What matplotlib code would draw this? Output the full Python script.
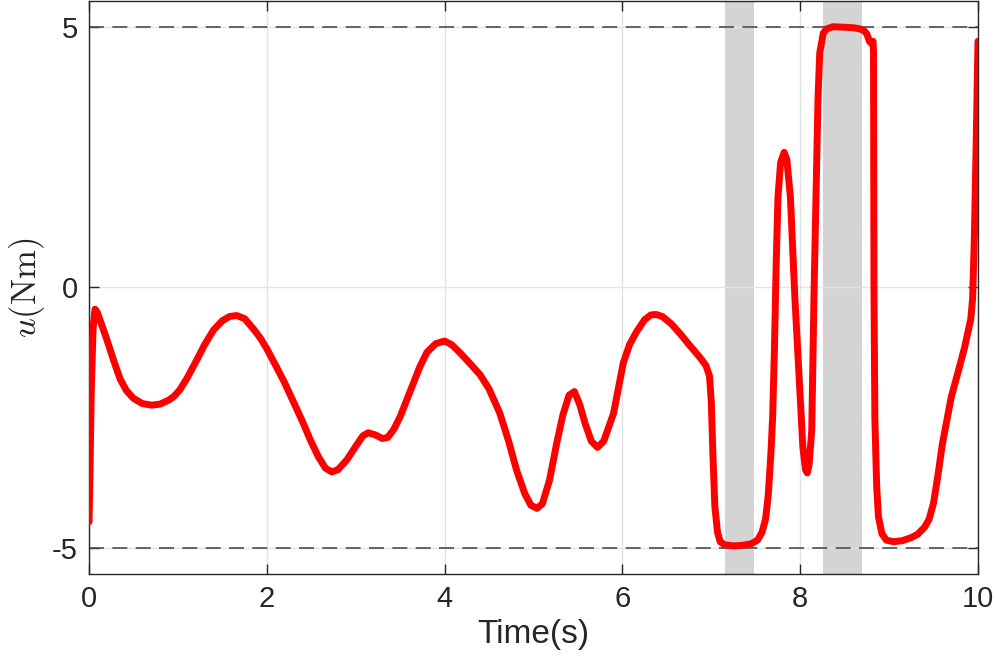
import matplotlib
matplotlib.use("Agg")
import matplotlib.pyplot as plt

# control input
t = [0.0, 0.01, 0.025, 0.045, 0.067, 0.09, 0.13, 0.2, 0.28, 0.35, 0.42, 0.5, 0.6, 0.705,
     0.8, 0.9, 0.95, 1.02, 1.1, 1.21, 1.3, 1.4, 1.5, 1.58, 1.66, 1.75, 1.85, 1.93, 2.0,
     2.1, 2.2, 2.3, 2.4, 2.49, 2.58, 2.66, 2.73, 2.8, 2.9, 3.0, 3.08, 3.14, 3.22, 3.3,
     3.36, 3.43, 3.5, 3.6, 3.72, 3.8, 3.9, 4.0, 4.08, 4.17, 4.28, 4.4, 4.5, 4.62, 4.72,
     4.81, 4.9, 4.97, 5.04, 5.1, 5.18, 5.26, 5.33, 5.4, 5.46, 5.52, 5.58, 5.65, 5.72,
     5.79, 5.9, 6.01, 6.08, 6.16, 6.25, 6.32, 6.38, 6.45, 6.55, 6.65, 6.75, 6.87, 6.94,
     6.98, 7.0, 7.02, 7.04, 7.07, 7.1, 7.15, 7.25, 7.35, 7.45, 7.52, 7.57, 7.61, 7.64,
     7.67, 7.69, 7.71, 7.73, 7.75, 7.78, 7.82, 7.85, 7.89, 7.94, 8.0, 8.03, 8.06, 8.08,
     8.1, 8.13, 8.155, 8.185, 8.2, 8.22, 8.26, 8.3, 8.37, 8.5, 8.6, 8.67, 8.72, 8.75,
     8.78, 8.8, 8.82, 8.825, 8.83, 8.84, 8.86, 8.88, 8.92, 8.97, 9.05, 9.15, 9.25, 9.32,
     9.4, 9.45, 9.5, 9.55, 9.6, 9.65, 9.7, 9.78, 9.85, 9.92, 9.94, 9.96, 9.98, 10.0]
u = [-4.5, -3.6, -2.0, -0.8, -0.42, -0.47, -0.66, -1.0, -1.42, -1.76, -1.98, -2.13, -2.23, -2.26,
     -2.24, -2.16, -2.1, -1.97, -1.75, -1.4, -1.1, -0.82, -0.64, -0.56, -0.54, -0.6, -0.8, -0.98, -1.18,
     -1.5, -1.83, -2.2, -2.57, -2.93, -3.25, -3.47, -3.54, -3.5, -3.31, -3.05, -2.85, -2.79, -2.83, -2.9,
     -2.88, -2.72, -2.48, -2.05, -1.53, -1.25, -1.08, -1.03, -1.1, -1.25, -1.45, -1.68, -1.95, -2.41, -2.95,
     -3.51, -3.95, -4.18, -4.24, -4.15, -3.7, -3.0, -2.45, -2.07, -2.0, -2.25, -2.61, -2.95, -3.07,
     -2.95, -2.42, -1.45, -1.1, -0.85, -0.62, -0.53, -0.52, -0.56, -0.7, -0.89, -1.1, -1.34, -1.5,
     -1.7, -2.2, -3.3, -4.2, -4.7, -4.88, -4.94, -4.96, -4.95, -4.92, -4.85, -4.7, -4.45, -4.0,
     -3.2, -2.5, -1.2, 0.45, 1.73, 2.4, 2.59, 2.45, 1.73, -0.19, -2.1, -3.06, -3.5, -3.56,
     -3.4, -2.74, -0.19, 2.37, 3.6, 4.5, 4.88, 4.96, 5.0, 4.99, 4.98, 4.96, 4.92, 4.86,
     4.72, 4.68, 4.72, 4.5, 0.0, -2.5, -3.8, -4.4, -4.73, -4.85, -4.88, -4.86, -4.8, -4.74,
     -4.6, -4.45, -4.14, -3.6, -3.0, -2.55, -2.1, -1.6, -1.15, -0.6, -0.2, 1.0, 2.8, 4.72]

u_max = 5
shaded = [(7.15, 7.48), (8.26, 8.70)]

plt.rcParams['axes.unicode_minus'] = False
plt.rcParams['font.family'] = ['Liberation Sans', 'DejaVu Sans']
plt.rcParams['mathtext.fontset'] = 'cm'

fig = plt.figure(figsize=(9.96, 6.64), dpi=100)
ax = fig.add_axes([0.0894, 0.1355, 0.8925, 0.8635])

ax.grid(True, color='#e3e3e3', linewidth=1.0, zorder=0)
for a, b in shaded:
    ax.axvspan(a, b, color='#d4d4d4', linewidth=0, zorder=1)
for lvl in (u_max, -u_max):
    ax.axhline(lvl, color='#4d4d4d', linewidth=1.2, dashes=(9, 5), zorder=2)
ax.plot(t, u, color='red', linewidth=5, solid_joinstyle='round',
        solid_capstyle='round', zorder=3)

ax.set_xlim(0, 10)
ax.set_ylim(-5.5, 5.5)
ax.set_xticks([0, 2, 4, 6, 8, 10])
ax.set_yticks([-5, 0, 5])
ax.tick_params(direction='in', length=7, width=1, top=True, right=True,
               labelsize=21, colors='#262626', pad=8)
for s in ax.spines.values():
    s.set_color('#262626')
    s.set_linewidth(1.0)

ax.set_xlabel('Time(s)', fontsize=24, color='#262626', labelpad=4)
ax.set_ylabel(r'$u(\mathrm{Nm})$', fontsize=25, color='#262626', labelpad=4)

fig.savefig('out.png', dpi=100)
